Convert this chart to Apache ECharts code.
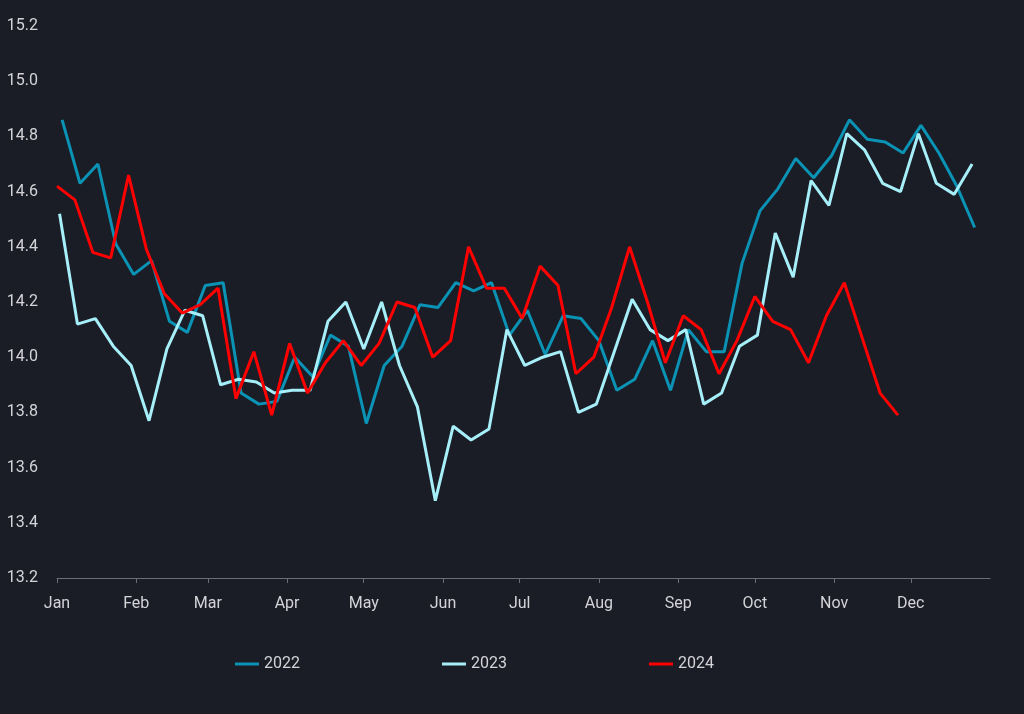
<!DOCTYPE html>
<html>
<head>
<meta charset="utf-8">
<script src="https://cdn.jsdelivr.net/npm/echarts@6/dist/echarts.min.js"></script>
<style>
  html, body { margin: 0; padding: 0; background: #1b1d26; }
  #chart { width: 1024px; height: 714px; }
</style>
</head>
<body>
<div id="chart"></div>
<script>
// month tick labels
const months = ['Jan', 'Feb', 'Mar', 'Apr', 'May', 'Jun', 'Jul', 'Aug', 'Sep', 'Oct', 'Nov', 'Dec'];
const yTicks = [13.2, 13.4, 13.6, 13.8, 14.0, 14.2, 14.4, 14.6, 14.8, 15.0, 15.2];

// weekly readings, first Monday of each year (day offset from Jan 1)
const start2022 = 2;
const start2023 = 1;
const start2024 = 0;

const values2022 = [
  14.86, 14.63, 14.70, 14.41, 14.30, 14.35, 14.13, 14.09, 14.26, 14.27,
  13.87, 13.83, 13.84, 14.00, 13.93, 14.08, 14.04, 13.76, 13.97, 14.04,
  14.19, 14.18, 14.27, 14.24, 14.27, 14.08, 14.17, 14.01, 14.15, 14.14,
  14.06, 13.88, 13.92, 14.06, 13.88, 14.10, 14.02, 14.02, 14.34, 14.53,
  14.61, 14.72, 14.65, 14.73, 14.86, 14.79, 14.78, 14.74, 14.84, 14.74,
  14.62, 14.47
];
const values2023 = [
  14.52, 14.12, 14.14, 14.04, 13.97, 13.77, 14.03, 14.17, 14.15, 13.90,
  13.92, 13.91, 13.87, 13.88, 13.88, 14.13, 14.20, 14.03, 14.20, 13.97,
  13.82, 13.48, 13.75, 13.70, 13.74, 14.10, 13.97, 14.00, 14.02, 13.80,
  13.83, 14.02, 14.21, 14.10, 14.06, 14.10, 13.83, 13.87, 14.04, 14.08,
  14.45, 14.29, 14.64, 14.55, 14.81, 14.75, 14.63, 14.60, 14.81, 14.63,
  14.59, 14.70
];
const values2024 = [
  14.62, 14.57, 14.38, 14.36, 14.66, 14.39, 14.23, 14.16, 14.19, 14.25,
  13.85, 14.02, 13.79, 14.05, 13.87, 13.98, 14.06, 13.97, 14.05, 14.20,
  14.18, 14.00, 14.06, 14.40, 14.25, 14.25, 14.14, 14.33, 14.26, 13.94,
  14.00, 14.18, 14.40, 14.20, 13.98, 14.15, 14.10, 13.94, 14.06, 14.22,
  14.13, 14.10, 13.98, 14.15, 14.27, 14.07, 13.87, 13.79
];

// all years are laid over one calendar year on the x axis
const DAY = 86400000;
const yearStart = new Date(2023, 0, 1).getTime();
const yearEnd = new Date(2024, 0, 1).getTime();

function toPoints(values, startDay) {
  return values.map((v, i) => [yearStart + (startDay + i * 7) * DAY, v]);
}

const chart = echarts.init(document.getElementById('chart'));

const option = {
  backgroundColor: '#1b1d26',
  textStyle: { fontFamily: 'Roboto' },
  grid: { left: 57, right: 34, top: 26, bottom: 136 },
  legend: {
    left: 230,
    top: 651,
    icon: 'rect',
    itemWidth: 24,
    itemHeight: 3,
    itemGap: 142,
    textStyle: { color: '#d4d4d8', fontSize: 16, fontFamily: 'Roboto' },
    data: ['2022', '2023', '2024']
  },
  xAxis: {
    type: 'time',
    min: yearStart,
    max: yearEnd,
    splitNumber: 12,
    axisLine: { lineStyle: { color: '#6b6e78', width: 1 } },
    axisTick: { show: true, length: 5, lineStyle: { color: '#6b6e78' } },
    splitLine: { show: false },
    axisLabel: {
      color: '#d4d4d8',
      fontSize: 16,
      margin: 18,
      hideOverlap: false,
      formatter: (value) => {
        const d = new Date(value);
        if (d.getFullYear() > 2023) return '';
        return months[d.getMonth()];
      }
    }
  },
  yAxis: {
    type: 'value',
    min: yTicks[0],
    max: yTicks[yTicks.length - 1],
    interval: 0.2,
    axisLine: { show: false },
    axisTick: { show: false },
    splitLine: { show: false },
    axisLabel: {
      color: '#d4d4d8',
      fontSize: 16,
      margin: 19,
      formatter: (v) => v.toFixed(1)
    }
  },
  series: [
    {
      name: '2022',
      type: 'line',
      data: toPoints(values2022, start2022),
      symbol: 'none',
      lineStyle: { color: '#0b93b6', width: 3 },
      itemStyle: { color: '#0b93b6' },
      z: 2
    },
    {
      name: '2023',
      type: 'line',
      data: toPoints(values2023, start2023),
      symbol: 'none',
      lineStyle: { color: '#a6eff9', width: 3 },
      itemStyle: { color: '#a6eff9' },
      z: 3
    },
    {
      name: '2024',
      type: 'line',
      data: toPoints(values2024, start2024),
      symbol: 'none',
      lineStyle: { color: '#ff0000', width: 3 },
      itemStyle: { color: '#ff0000' },
      z: 4
    }
  ]
};

chart.setOption(option);
</script>
</body>
</html>
